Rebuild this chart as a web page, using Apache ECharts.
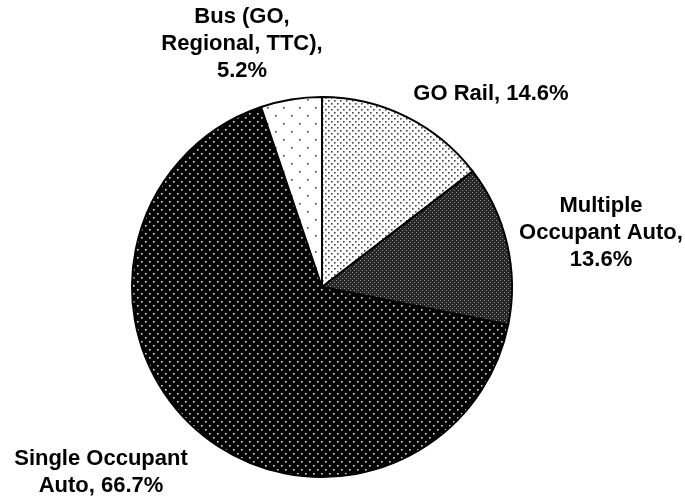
<!DOCTYPE html>
<html><head><meta charset="utf-8">
<script src="https://cdn.jsdelivr.net/npm/echarts@6/dist/echarts.min.js"></script>
<style>html,body{margin:0;padding:0;background:#fff}#c{width:685px;height:500px}</style>
</head><body><div id="c"></div>
<script>
var categories = ['GO Rail', 'Multiple Occupant Auto', 'Single Occupant Auto', 'Bus (GO, Regional, TTC)'];
var labelTexts = ['GO Rail, 14.6%', 'Multiple\nOccupant Auto,\n13.6%', 'Single Occupant\nAuto, 66.7%', 'Bus (GO,\nRegional, TTC),\n5.2%'];
var values = [14.6, 13.6, 66.7, 5.2];

function makePattern(size, bg, dotColor, dots, r) {
  var c = document.createElement('canvas');
  c.width = size; c.height = size;
  var g = c.getContext('2d');
  g.fillStyle = bg; g.fillRect(0, 0, size, size);
  g.fillStyle = dotColor;
  dots.forEach(function (d) { g.fillRect(d[0], d[1], r, r); });
  return { image: c, repeat: 'repeat' };
}
var patterns = [
  makePattern(6, '#ffffff', '#444444', [[1, 1], [4, 4]], 1.6),
  makePattern(4, '#262626', '#909090', [[0, 0], [2, 2]], 1),
  makePattern(8, '#000000', '#e0e0e0', [[1, 1], [5, 5]], 1.6),
  makePattern(16, '#ffffff', '#444444', [[3, 3], [11, 11]], 1.6)
];
var labelPos = [[491, 94], [601, 233], [101, 472], [242, 44]];

var chart = echarts.init(document.getElementById('c'));
chart.setOption({
  animation: false,
  series: [{
    type: 'pie',
    center: [322, 287],
    radius: [0, 190],
    startAngle: 90,
    clockwise: true,
    label: {
      show: true,
      position: 'outside',
      formatter: function (p) { return labelTexts[p.dataIndex]; },
      fontFamily: 'Liberation Sans, Arial, sans-serif',
      fontWeight: 'bold',
      fontSize: 22,
      lineHeight: 27,
      color: '#000',
      align: 'center',
      overflow: 'none'
    },
    labelLine: { show: false },
    labelLayout: function (p) {
      return { x: labelPos[p.dataIndex][0], y: labelPos[p.dataIndex][1], align: 'center', verticalAlign: 'middle', width: 300 };
    },
    itemStyle: { borderColor: '#000', borderWidth: 2 },
    emphasis: { disabled: true },
    data: categories.map(function (n, i) {
      return { name: n, value: values[i], itemStyle: { color: patterns[i] } };
    })
  }]
});
</script></body></html>
